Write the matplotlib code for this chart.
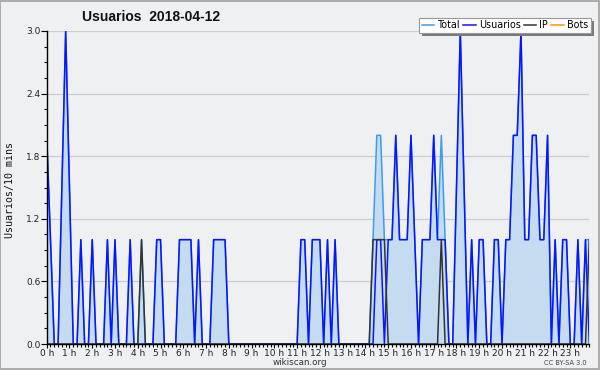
import matplotlib
matplotlib.use('Agg')
import matplotlib.pyplot as plt
from matplotlib.ticker import MultipleLocator, FixedLocator, StrMethodFormatter
import numpy as np

# 10-minute slots, 144 per day
slot_hours = np.arange(144) / 6.0

usuarios = [
    2, 1, 0, 0, 1.5, 3, 1.5, 0, 0, 1, 0, 0,
    1, 0, 0, 0, 1, 0, 1, 0, 0, 0, 1, 0,
    0, 0, 0, 0, 0, 1, 1, 0, 0, 0, 0, 1,
    1, 1, 1, 0, 1, 0, 0, 0, 1, 1, 1, 1,
    0, 0, 0, 0, 0, 0, 0, 0, 0, 0, 0, 0,
    0, 0, 0, 0, 0, 0, 0, 1, 1, 0, 1, 1,
    1, 0, 1, 0, 1, 0, 0, 0, 0, 0, 0, 0,
    0, 0, 0, 1, 1, 0, 1, 1, 2, 1, 1, 1,
    2, 1, 0, 1, 1, 1, 2, 1, 1, 1, 0, 0,
    1.5, 3, 1.5, 0, 1, 0, 1, 1, 0, 0, 1, 1,
    0, 1, 1, 2, 2, 3, 1, 1, 2, 2, 1, 1,
    2, 0, 1, 0, 1, 1, 0, 0, 1, 0, 1, 0,
]

total = [
    2, 1, 0, 0, 1.5, 3, 1.5, 0, 0, 1, 0, 0,
    1, 0, 0, 0, 1, 0, 1, 0, 0, 0, 1, 0,
    0, 1, 0, 0, 0, 1, 1, 0, 0, 0, 0, 1,
    1, 1, 1, 0, 1, 0, 0, 0, 1, 1, 1, 1,
    0, 0, 0, 0, 0, 0, 0, 0, 0, 0, 0, 0,
    0, 0, 0, 0, 0, 0, 0, 1, 1, 0, 1, 1,
    1, 0, 1, 0, 1, 0, 0, 0, 0, 0, 0, 0,
    0, 0, 1, 2, 2, 1, 1, 1, 2, 1, 1, 1,
    2, 1, 0, 1, 1, 1, 2, 1, 2, 1, 0, 0,
    1.5, 3, 1.5, 0, 1, 0, 1, 1, 0, 0, 1, 1,
    0, 1, 1, 2, 2, 3, 1, 1, 2, 2, 1, 1,
    2, 0, 1, 0, 1, 1, 0, 0, 1, 0, 1, 1,
]

ip = [
    0, 0, 0, 0, 0, 0, 0, 0, 0, 0, 0, 0,
    0, 0, 0, 0, 0, 0, 0, 0, 0, 0, 0, 0,
    0, 1, 0, 0, 0, 0, 0, 0, 0, 0, 0, 0,
    0, 0, 0, 0, 0, 0, 0, 0, 0, 0, 0, 0,
    0, 0, 0, 0, 0, 0, 0, 0, 0, 0, 0, 0,
    0, 0, 0, 0, 0, 0, 0, 0, 0, 0, 0, 0,
    0, 0, 0, 0, 0, 0, 0, 0, 0, 0, 0, 0,
    0, 0, 1, 1, 1, 1, 0, 0, 0, 0, 0, 0,
    0, 0, 0, 0, 0, 0, 0, 0, 1, 0, 0, 0,
    0, 0, 0, 0, 0, 0, 0, 0, 0, 0, 0, 0,
    0, 0, 0, 0, 0, 0, 0, 0, 0, 0, 0, 0,
    0, 0, 0, 0, 0, 0, 0, 0, 0, 0, 0, 1,
]

bots = [0] * 144

hour_ticks = list(range(24))
hour_labels = [f"{h} h" for h in hour_ticks]
y_ticks = [0.0, 0.6, 1.2, 1.8, 2.4, 3.0]

title = "Usuarios  2018-04-12"
ylabel = "Usuarios/10 mins"

bg = '#eff0f1'
fig = plt.figure(figsize=(6, 3.7), dpi=100, facecolor=bg)
fig.patches.append(plt.Rectangle((0.0008, 0.0014), 0.998, 0.997, transform=fig.transFigure,
                                 fill=False, edgecolor='#a0a0a0', linewidth=1.2))
ax = fig.add_axes([46.7 / 600, 1 - 344 / 370, (589.3 - 46.7) / 600, (344 - 31) / 370])
ax.set_facecolor(bg)

ax.fill_between(slot_hours, total, 0, color='#c5dcf0', linewidth=0, zorder=1)
ax.plot(slot_hours, bots, color='#ff9900', lw=1.1, zorder=0.8)
l_total, = ax.plot(slot_hours, total, color='#3d9cf0', lw=1.1, zorder=2)
l_users, = ax.plot(slot_hours, usuarios, color='#0a14ff', lw=1.1, zorder=2.1)
l_ip, = ax.plot(slot_hours, ip, color='#333333', lw=1.1, zorder=2.2)
l_bots = plt.Line2D([], [], color='#ff9900', lw=1.1)

ax.set_xlim(0, 143 / 6.0)
ax.set_ylim(0, 3.0)

for s in ['top', 'right']:
    ax.spines[s].set_visible(False)
for s in ['left', 'bottom']:
    ax.spines[s].set_color('black')
    ax.spines[s].set_linewidth(1.0)
    ax.spines[s].set_zorder(3)

ax.xaxis.set_major_locator(FixedLocator(hour_ticks))
ax.set_xticklabels(hour_labels)
ax.xaxis.set_minor_locator(MultipleLocator(1 / 6.0))
ax.yaxis.set_major_locator(FixedLocator(y_ticks))
ax.yaxis.set_major_formatter(StrMethodFormatter('{x:.1f}'))
ax.yaxis.set_minor_locator(MultipleLocator(0.15))
ax.tick_params(axis='both', which='major', direction='out', length=3, width=0.8,
               labelsize=6.5, pad=0.5, colors='black', labelcolor='#222222')
ax.tick_params(axis='both', which='minor', direction='out', length=2, width=0.8)
ax.tick_params(axis='y', which='major', length=4)
ax.grid(axis='y', which='major', color='#cccccc', linewidth=0.9)
ax.set_axisbelow(True)

fig.text(151 / 600, 1 - 17 / 370, title, ha='center', va='center',
         fontsize=10, fontweight='bold', color='#111111', family='Liberation Sans')
fig.text(10 / 600, 1 - 190 / 370, ylabel, rotation=90, ha='center', va='center',
         fontsize=7.2, family='DejaVu Sans Mono', color='#111111')
fig.text(300 / 600, 1 - 362.5 / 370, "wikiscan.org", ha='center', va='center',
         fontsize=6.3, color='#333333')
fig.text(565 / 600, 1 - 363 / 370, "CC BY-SA 3.0", ha='center', va='center',
         fontsize=4.8, color='#444444')

leg = fig.legend([l_total, l_users, l_ip, l_bots], ['Total', 'Usuarios', 'IP', 'Bots'],
                 loc='upper right', bbox_to_anchor=(591 / 600, 1 - 17.5 / 370),
                 ncol=4, fontsize=6.9, handlelength=1.3, handletextpad=0.35,
                 columnspacing=0.3, borderpad=0.3, frameon=True, fancybox=False,
                 shadow=False, framealpha=1.0, facecolor='white',
                 edgecolor='#999999', borderaxespad=0)
leg.get_frame().set_linewidth(0.8)
leg.set_zorder(5)

# manual drop shadow behind the legend
fig.canvas.draw()
bb = leg.get_window_extent().transformed(fig.transFigure.inverted())
off_x, off_y = 3 / 600, 3 / 370
fig.patches.append(plt.Rectangle((bb.x0 + off_x, bb.y0 - off_y), bb.width, bb.height,
                                 transform=fig.transFigure, facecolor='#7a7a7a',
                                 edgecolor='none', zorder=4))

fig.savefig('out.png', dpi=100, facecolor=bg)
